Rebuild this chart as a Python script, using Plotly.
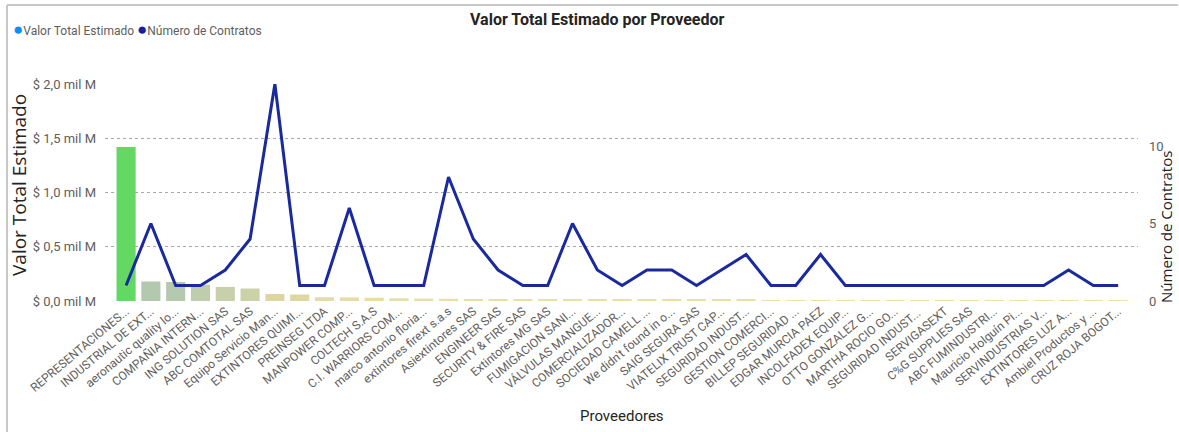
import plotly.graph_objects as go

proveedores = [
    "REPRESENTACIONES...", "INDUSTRIAL DE EXT...", "aeronautic quality lo...", "COMPAÑIA INTERN...",
    "ING SOLUTION SAS", "ABC COMTOTAL SAS", "Equipo Servicio Man...", "EXTINTORES QUIMI...",
    "PREINSEG LTDA", "MANPOWER COMP...", "COLTECH S.A.S", "C.I. WARRIORS COM...",
    "marco antonio floria...", "extintores firext s.a.s", "Asiextintores SAS", "ENGINEER SAS",
    "SECURITY & FIRE SAS", "Extintores MG SAS", "FUMIGACION SANI...", "VÁLVULAS MANGUE...",
    "COMERCIALIZADOR...", "SOCIEDAD CAMELL ...", "We didn't found in o...", "SAIG SEGURA SAS",
    "VIATELIX TRUST CAP...", "SEGURIDAD INDUST...", "GESTION COMERCI...", "BILLEP SEGURIDAD ...",
    "EDGAR MURCIA PAEZ", "INCOLFADEX EQUIP...", "OTTO GONZALEZ G...", "MARTHA ROCIO GO...",
    "SEGURIDAD INDUST... ", "SERVIGASEXT", "C%G SUPPLIES SAS", "ABC FUMINDUSTRI...",
    "Mauricio Holguín Pi...", "SERVINDUSTRIAS V...", "EXTINTORES LUZ A...", "Ambiel Productos y ...",
    "CRUZ ROJA BOGOT...",
]

# Valor Total Estimado (pesos)
valor_total = [
    1.42e9, 0.18e9, 0.175e9, 0.15e9, 0.13e9, 0.115e9, 0.065e9, 0.06e9, 0.035e9, 0.033e9,
    0.030e9, 0.025e9, 0.022e9, 0.020e9, 0.018e9, 0.017e9, 0.016e9, 0.015e9, 0.014e9, 0.013e9,
    0.012e9, 0.012e9, 0.011e9, 0.011e9, 0.010e9, 0.010e9, 0.009e9, 0.009e9, 0.009e9, 0.008e9,
    0.008e9, 0.008e9, 0.007e9, 0.007e9, 0.007e9, 0.006e9, 0.006e9, 0.006e9, 0.005e9, 0.005e9,
    0.001e9,
]

# Número de Contratos
num_contratos = [
    1, 5, 1, 1, 2, 4, 14, 1, 1, 6,
    1, 1, 1, 8, 4, 2, 1, 1, 5, 2,
    1, 2, 2, 1, 2, 3, 1, 1, 3, 1,
    1, 1, 1, 1, 1, 1, 1, 1, 2, 1,
    1,
]

left_tickvals = [0, 0.5e9, 1.0e9, 1.5e9, 2.0e9]
left_ticktext = ["$ 0,0 mil M", "$ 0,5 mil M", "$ 1,0 mil M", "$ 1,5 mil M", "$ 2,0 mil M"]
right_tickvals = [0, 5, 10]

FONT = "Segoe UI, Roboto, sans-serif"
GRAY = "#605E5C"
DARK = "#252423"

W, H = 1179, 432
L, R, T, B = 105, 41, 84, 131
pw, ph = W - L - R, H - T - B


def px_x(x):
    return (x - L) / pw


def px_y(y):
    return (H - B - y) / ph


x_idx = list(range(len(proveedores)))

fig = go.Figure()
fig.add_trace(go.Bar(
    x=x_idx, y=valor_total, name="Valor Total Estimado", showlegend=False,
    marker=dict(
        color=valor_total,
        colorscale=[[0, "#ebe2a6"], [0.03, "#e2dba3"], [0.045, "#dcd7a0"], [0.09, "#c8d0aa"],
                    [0.125, "#b3c9ae"], [0.5, "#92cf8c"], [1, "#63d863"]],
        line=dict(width=0),
    ),
    width=0.77,
))
fig.add_trace(go.Scatter(
    x=x_idx, y=num_contratos, name="Número de Contratos", yaxis="y2", mode="lines",
    line=dict(color="#1A2A9E", width=3), showlegend=False,
))

legend_text = ('<span style="color:#118DFF;font-size:17px">●</span>Valor Total Estimado '
               '<span style="color:#12239E;font-size:17px">●</span>Número de Contratos')

fig.update_layout(
    width=W, height=H,
    margin=dict(l=L, r=R, t=T, b=B, autoexpand=False),
    paper_bgcolor="white", plot_bgcolor="white",
    font=dict(family=FONT, color=GRAY, size=12),
    showlegend=False,
    xaxis=dict(
        tickmode="array", tickvals=x_idx, ticktext=proveedores, tickangle=-40,
        range=[-0.85, 40.8], showgrid=False, zeroline=False, showline=False,
        tickfont=dict(size=12, color=GRAY), ticks="", automargin=False,
    ),
    yaxis=dict(
        range=[0, 2.0e9], tickvals=left_tickvals, ticktext=left_ticktext,
        showgrid=True, gridcolor="#A8A8A8", griddash="dot", gridwidth=1,
        zeroline=False, showline=False, tickfont=dict(size=13, color=GRAY), ticks="",
        ticklabelstandoff=8, automargin=False,
    ),
    yaxis2=dict(
        range=[0, 14], tickvals=right_tickvals, overlaying="y", side="right",
        showgrid=False, zeroline=False, showline=False, tickfont=dict(size=13, color=GRAY),
        ticks="", ticklabelstandoff=10, automargin=False,
    ),
    bargap=0.23,
    annotations=[
        dict(text="<b>Valor Total Estimado por Proveedor</b>", x=px_x(597), y=px_y(20),
             xref="paper", yref="paper", showarrow=False, xanchor="center", yanchor="middle",
             font=dict(size=16, color=DARK, family=FONT)),
        dict(text=legend_text, x=px_x(11), y=px_y(29), xref="paper", yref="paper",
             showarrow=False, xanchor="left", yanchor="middle",
             font=dict(size=12, color=GRAY, family=FONT)),
        dict(text="Valor Total Estimado", x=px_x(19), y=px_y(185), xref="paper", yref="paper",
             showarrow=False, textangle=-90, xanchor="center", yanchor="middle",
             font=dict(size=19, color=DARK, family="Open Sans, sans-serif")),
        dict(text="Número de Contratos", x=px_x(1166), y=px_y(227), xref="paper", yref="paper",
             showarrow=False, textangle=-90, xanchor="center", yanchor="middle",
             font=dict(size=15, color=DARK, family="Open Sans, sans-serif")),
        dict(text="Proveedores", x=px_x(622), y=px_y(416), xref="paper", yref="paper",
             showarrow=False, xanchor="center", yanchor="middle",
             font=dict(size=15, color=DARK, family=FONT)),
    ],
    shapes=[
        dict(type="line", xref="paper", yref="paper", x0=px_x(7), x1=px_x(1178),
             y0=px_y(5), y1=px_y(5), line=dict(color="#C8C8C8", width=2)),
        dict(type="line", xref="paper", yref="paper", x0=px_x(7), x1=px_x(7),
             y0=px_y(5), y1=px_y(432), line=dict(color="#C8C8C8", width=2)),
    ],
)

fig.write_html("out.html", config={"displayModeBar": False},
               post_script="document.body.style.margin='0';")
